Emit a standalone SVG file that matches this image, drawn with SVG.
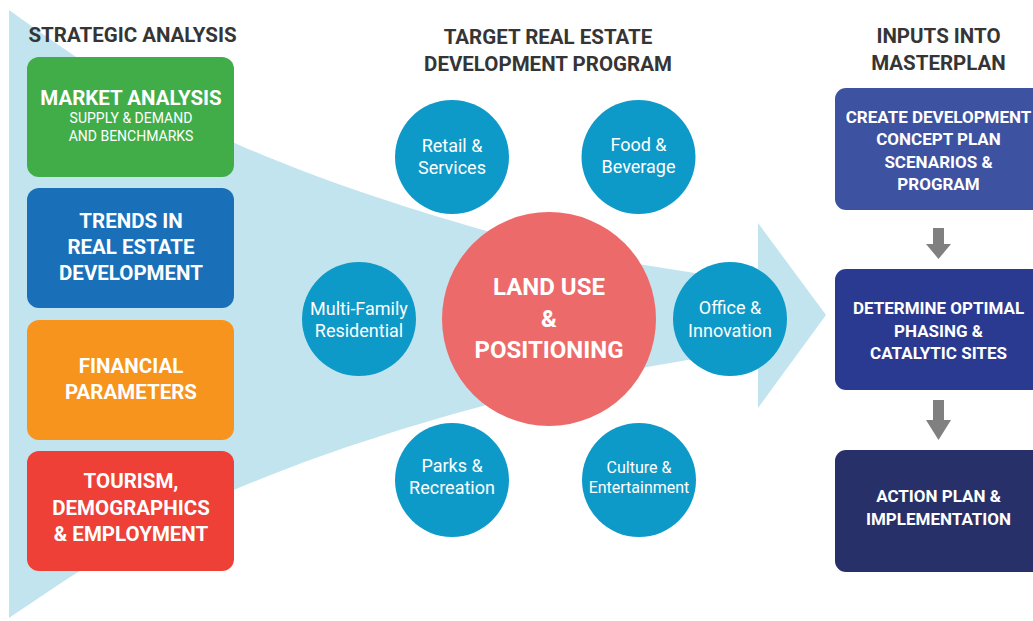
<svg xmlns="http://www.w3.org/2000/svg" width="1033" height="621" viewBox="0 0 1033 621">
<style>
.hdr{font-family:Roboto,"Liberation Sans",sans-serif;font-weight:700;font-size:20.5px;fill:#353535;text-anchor:middle}
.bt{font-family:Roboto,"Liberation Sans",sans-serif;font-weight:700;font-size:20.5px;fill:#fff;text-anchor:middle}
.st{font-family:Roboto,"Liberation Sans",sans-serif;font-weight:400;font-size:14px;fill:#fff;text-anchor:middle}
.rt{font-family:Roboto,"Liberation Sans",sans-serif;font-weight:700;font-size:17px;fill:#fff;text-anchor:middle}
.ct{font-family:Roboto,"Liberation Sans",sans-serif;font-weight:400;font-size:18px;fill:#fff;text-anchor:middle}
.mt{font-family:Roboto,"Liberation Sans",sans-serif;font-weight:700;font-size:24px;fill:#fff;text-anchor:middle}
.flow{fill:#c2e4ef}
.sc{fill:#0e9ac8}
.ga{fill:#808080}
</style>
<rect width="1033" height="621" fill="#fff"/>
<g id="connectors">
<path class="flow" d="M 9 10 C 100 75 200 150 490 232 L 549 319 L 490 404 C 200 482 100 557 9 618 Z"/>
<polygon class="flow" points="600,258 758,283 758,348 600,375"/>
<polygon class="flow" points="758,223 826,315 758,408"/>
<polygon class="ga" points="933,228 944,228 944,244 951,244 938.5,259 926,244 933,244"/>
<polygon class="ga" points="933,400 944,400 944,420 951,420 938.5,440 926,420 933,420"/>
</g>
<g id="titles">
<text class="hdr" x="132.5" y="42">STRATEGIC ANALYSIS</text>
<text class="hdr" x="548" y="44">TARGET REAL ESTATE</text>
<text class="hdr" x="548" y="71">DEVELOPMENT PROGRAM</text>
<text class="hdr" x="938.5" y="43">INPUTS INTO</text>
<text class="hdr" x="938.5" y="70">MASTERPLAN</text>
</g>
<g id="market-analysis">
<rect x="27" y="57" width="207" height="120" rx="12" fill="#41ad49"/>
<text class="bt" x="131" y="105">MARKET ANALYSIS</text>
<text class="st" x="131" y="123">SUPPLY &amp; DEMAND</text>
<text class="st" x="131" y="141">AND BENCHMARKS</text>
</g>
<g id="trends">
<rect x="27" y="188" width="207" height="120" rx="12" fill="#1a70b8"/>
<text class="bt" x="131" y="228">TRENDS IN</text>
<text class="bt" x="131" y="254">REAL ESTATE</text>
<text class="bt" x="131" y="280">DEVELOPMENT</text>
</g>
<g id="financial">
<rect x="27" y="320" width="207" height="120" rx="12" fill="#f7941e"/>
<text class="bt" x="131" y="373">FINANCIAL</text>
<text class="bt" x="131" y="399">PARAMETERS</text>
</g>
<g id="tourism">
<rect x="27" y="451" width="207" height="120" rx="12" fill="#ee4036"/>
<text class="bt" x="131" y="488">TOURISM,</text>
<text class="bt" x="131" y="515">DEMOGRAPHICS</text>
<text class="bt" x="131" y="541">&amp; EMPLOYMENT</text>
</g>
<g id="retail">
<circle class="sc" cx="452" cy="157" r="57"/>
<text class="ct" x="452" y="152">Retail &amp;</text>
<text class="ct" x="452" y="174">Services</text>
</g>
<g id="food">
<circle class="sc" cx="638.5" cy="157" r="57"/>
<text class="ct" x="638.5" y="151">Food &amp;</text>
<text class="ct" x="638.5" y="173">Beverage</text>
</g>
<g id="multi-family">
<circle class="sc" cx="359" cy="319" r="57"/>
<text class="ct" x="359" y="315">Multi-Family</text>
<text class="ct" x="359" y="337">Residential</text>
</g>
<g id="office">
<circle class="sc" cx="730" cy="319" r="57"/>
<text class="ct" x="730" y="314">Office &amp;</text>
<text class="ct" x="730" y="337">Innovation</text>
</g>
<g id="parks">
<circle class="sc" cx="452" cy="480" r="57"/>
<text class="ct" x="452" y="472">Parks &amp;</text>
<text class="ct" x="452" y="494">Recreation</text>
</g>
<g id="culture">
<circle class="sc" cx="639" cy="480" r="57"/>
<text class="ct" x="639" y="473" style="font-size:16px">Culture &amp;</text>
<text class="ct" x="639" y="493" style="font-size:16px">Entertainment</text>
</g>
<g id="land-use">
<circle cx="549" cy="319" r="107" fill="#ed6a6a"/>
<text class="mt" x="549" y="295">LAND USE</text>
<text class="mt" x="549" y="327">&amp;</text>
<text class="mt" x="549" y="358">POSITIONING</text>
</g>
<g id="create-concept">
<rect x="835" y="88" width="215" height="122" rx="11" fill="#3d52a1"/>
<text class="rt" x="938.5" y="123">CREATE DEVELOPMENT</text>
<text class="rt" x="938.5" y="145">CONCEPT PLAN</text>
<text class="rt" x="938.5" y="168">SCENARIOS &amp;</text>
<text class="rt" x="938.5" y="190">PROGRAM</text>
</g>
<g id="determine-phasing">
<rect x="835" y="269" width="215" height="121" rx="11" fill="#2b3a91"/>
<text class="rt" x="938.5" y="314">DETERMINE OPTIMAL</text>
<text class="rt" x="938.5" y="337">PHASING &amp;</text>
<text class="rt" x="938.5" y="359">CATALYTIC SITES</text>
</g>
<g id="action-plan">
<rect x="835" y="450" width="215" height="122" rx="11" fill="#283069"/>
<text class="rt" x="938.5" y="502">ACTION PLAN &amp;</text>
<text class="rt" x="938.5" y="525">IMPLEMENTATION</text>
</g>
</svg>
